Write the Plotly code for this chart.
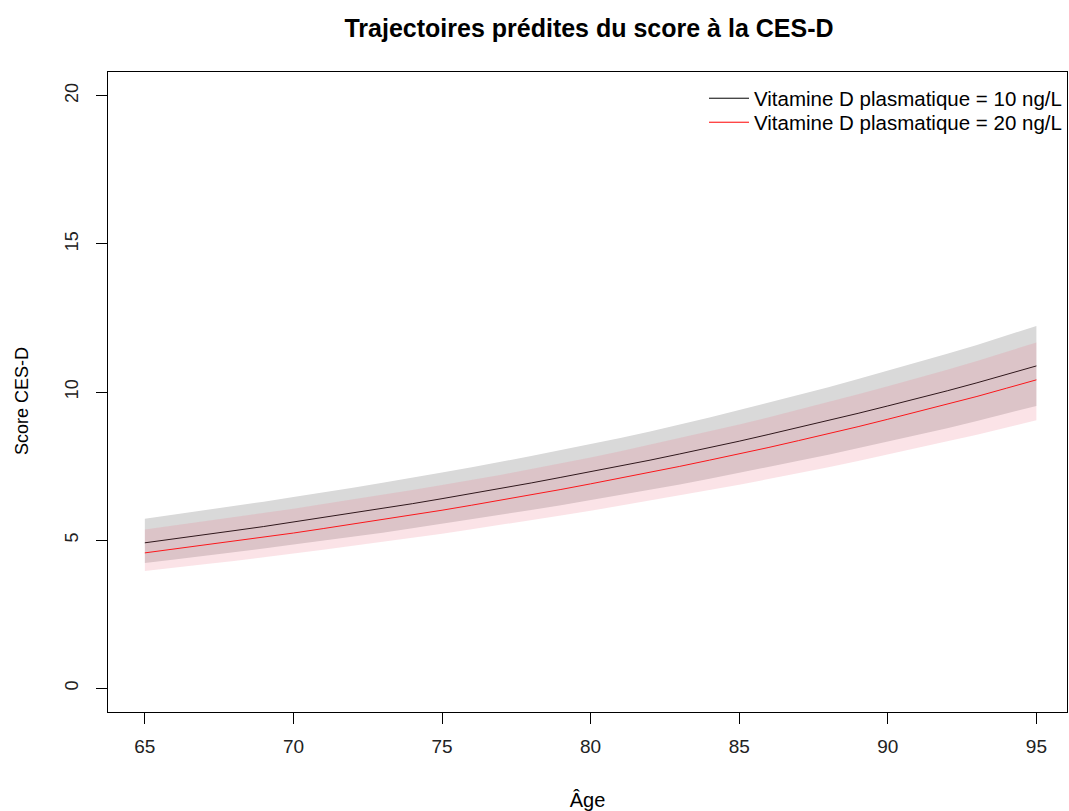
import plotly.graph_objects as go

# Predicted CES-D score by age, for two plasma vitamin D levels
age = list(range(65, 96))

mean_10 = [4.91, 5.04, 5.18, 5.32, 5.46, 5.61, 5.76, 5.91, 6.07, 6.23, 6.40,
           6.57, 6.75, 6.93, 7.12, 7.31, 7.50, 7.70, 7.91, 8.12, 8.34,
           8.57, 8.80, 9.03, 9.28, 9.53, 9.78, 10.04, 10.31, 10.59, 10.88]
low_10 = [4.23, 4.35, 4.47, 4.59, 4.72, 4.85, 4.98, 5.11, 5.25, 5.40, 5.55,
          5.70, 5.86, 6.02, 6.18, 6.35, 6.52, 6.70, 6.88, 7.07, 7.27,
          7.47, 7.68, 7.88, 8.10, 8.33, 8.55, 8.78, 9.02, 9.27, 9.53]
up_10 = [5.72, 5.86, 6.01, 6.16, 6.30, 6.46, 6.61, 6.77, 6.94, 7.10, 7.28,
         7.46, 7.64, 7.84, 8.04, 8.24, 8.45, 8.67, 8.90, 9.14, 9.39,
         9.64, 9.90, 10.16, 10.44, 10.72, 11.00, 11.29, 11.59, 11.91, 12.23]

mean_20 = [4.57, 4.70, 4.83, 4.96, 5.10, 5.24, 5.39, 5.54, 5.69, 5.85, 6.01,
           6.18, 6.35, 6.53, 6.71, 6.90, 7.09, 7.29, 7.49, 7.70, 7.91,
           8.13, 8.36, 8.59, 8.83, 9.08, 9.33, 9.59, 9.85, 10.13, 10.41]
low_20 = [3.96, 4.08, 4.19, 4.30, 4.42, 4.55, 4.68, 4.81, 4.94, 5.08, 5.22,
          5.37, 5.51, 5.67, 5.83, 5.99, 6.16, 6.33, 6.51, 6.69, 6.87,
          7.06, 7.26, 7.46, 7.67, 7.89, 8.11, 8.34, 8.56, 8.80, 9.05]
up_20 = [5.36, 5.50, 5.64, 5.77, 5.92, 6.06, 6.22, 6.37, 6.53, 6.69, 6.86,
         7.03, 7.21, 7.40, 7.59, 7.79, 8.00, 8.22, 8.44, 8.67, 8.90,
         9.15, 9.40, 9.65, 9.92, 10.19, 10.46, 10.75, 11.05, 11.35, 11.67]

x_ticks = [65, 70, 75, 80, 85, 90, 95]
y_ticks = [0, 5, 10, 15, 20]

FONT = "Arial, Liberation Sans, sans-serif"


def band(lo, hi, color):
    return go.Scatter(
        x=age + age[::-1], y=hi + lo[::-1], fill="toself",
        fillcolor=color, line=dict(width=0), mode="lines",
        hoverinfo="skip", showlegend=False,
    )


fig = go.Figure()
fig.add_trace(band(low_10, up_10, "rgb(217,217,217)"))
fig.add_trace(go.Scatter(x=age, y=mean_10, mode="lines",
                         line=dict(color="black", width=1),
                         name="Vitamine D plasmatique = 10 ng/L",
                         legend="legend"))
fig.add_trace(go.Scatter(x=age, y=mean_20, mode="lines",
                         line=dict(color="red", width=1),
                         name="Vitamine D plasmatique = 20 ng/L",
                         legend="legend2"))
fig.add_trace(band(low_20, up_20, "rgba(235,115,135,0.2)"))

legend_style = dict(x=1.0, xanchor="right", yanchor="top",
                    bgcolor="rgba(0,0,0,0)",
                    font=dict(size=20.5, family=FONT, color="black"),
                    itemwidth=40)

fig.update_layout(
    width=1069, height=811,
    margin=dict(l=108, r=2, t=72, b=99),
    paper_bgcolor="white", plot_bgcolor="white",
    font=dict(family=FONT, size=16, color="black"),
    title=dict(text="<b>Trajectoires prédites du score à la CES-D</b>",
               x=0.551, xanchor="center", y=0.965, yanchor="middle",
               font=dict(size=25, family=FONT, color="black")),
    legend=dict(y=0.99, **legend_style),
    legend2=dict(y=0.9525, **legend_style),
    showlegend=True,
    annotations=[dict(
        text="Score CES-D", textangle=-90, showarrow=False,
        xref="paper", yref="paper", x=0, y=0.5, xanchor="center",
        yanchor="middle", xshift=-86, yshift=-9,
        font=dict(size=18, family=FONT, color="black"),
    )],
)
fig.update_xaxes(
    range=[63.76, 96.03], tickvals=x_ticks, ticks="outside", ticklen=11,
    tickcolor="black", showline=True, mirror=True, linecolor="black",
    linewidth=1, showgrid=False, zeroline=False, ticklabelstandoff=6,
    tickfont=dict(size=19, family=FONT, color="#222"),
    title=dict(text="Âge", standoff=37, font=dict(size=20, family=FONT)),
)
fig.update_yaxes(
    range=[-0.8, 20.8], tickvals=y_ticks, ticks="outside", ticklen=11,
    tickcolor="black", showline=True, mirror=True, linecolor="black",
    linewidth=1, showgrid=False, zeroline=False, tickangle=-90,
    ticklabelstandoff=11, tickfont=dict(size=18, family=FONT, color="#222"),
)

fig.write_html("out.html")
